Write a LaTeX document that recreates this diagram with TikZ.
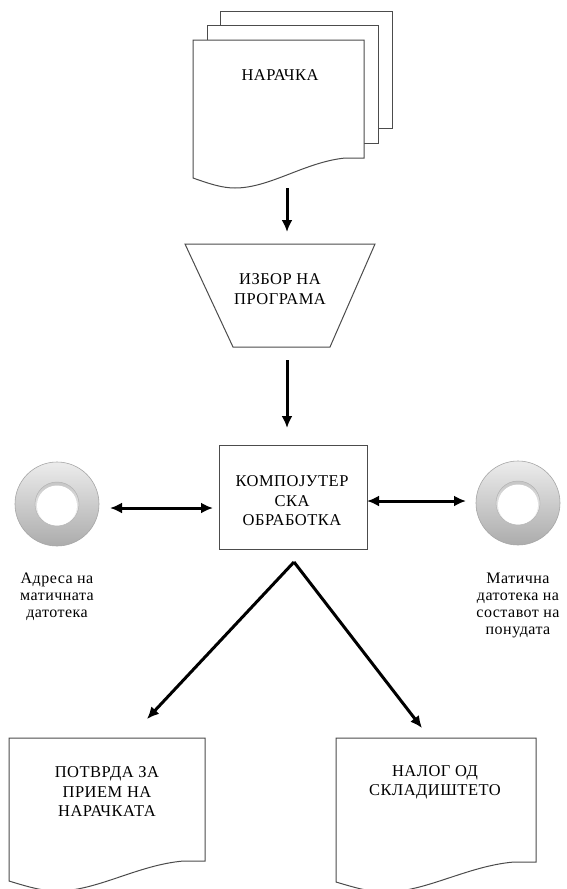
\documentclass[tikz,border=0pt]{standalone}
\usepackage{fontspec}
\setmainfont[LetterSpace=3]{Liberation Serif}
\usetikzlibrary{arrows.meta}
\tikzset{
  shapeline/.style={draw=black!70, line width=1pt, fill=white},
  capstext/.style={font=\fontsize{16.5}{19.5}\selectfont, text=black, align=center, inner sep=0pt},
  lbltext/.style={font=\fontsize{16}{17}\selectfont, text=black, align=center, inner sep=0pt},
  flow/.style={line width=3pt, -{Latex[length=12pt,width=11pt]}},
  twoway/.style={line width=3pt, {Latex[length=12pt,width=11pt]}-{Latex[length=12pt,width=11pt]}},
}
\newcommand{\docshape}[4]{% x0, ytop, width, yright-bottom
  \draw[shapeline] (#1,#2) -- ({#1+#3},#2) -- ({#1+#3},#4) -- ({#1+0.89*#3},#4)
    .. controls ({#1+0.655*#3},{#4+4}) and ({#1+0.45*#3},{#4+30}) .. ({#1+0.246*#3},{#4+30})
    .. controls ({#1+0.17*#3},{#4+30}) and ({#1+0.1*#3},{#4+26}) .. (#1,{#4+20}) -- cycle;}
\newcommand{\diskshape}[2]{% cx, cy
  \shade[top color=gray!15, bottom color=gray!65] (#1,#2) circle[radius=42pt];
  \draw[gray!70, line width=0.6pt] (#1,#2) circle[radius=42pt];
  \shade[top color=gray!45, bottom color=white] (#1,#2) circle[radius=22pt];
  \fill[white] (#1,{#2+1.5}) circle[radius=20pt];
  \draw[gray!60, line width=0.5pt] (#1,#2) circle[radius=22pt];}
\begin{document}
\begin{tikzpicture}[x=1pt, y=-1pt]
\useasboundingbox (0,0) rectangle (567,889);
\fill[white] (0,0) rectangle (567,889);

% stacked documents (input)
\draw[shapeline] (220,11) rectangle (392,128);
\draw[shapeline] (207,25) rectangle (378,143);
\docshape{193}{40}{171}{158}
\node[capstext] (order) at (280,75) {НАРАЧКА};
\coordinate (orderout) at (287,188);

% manual operation trapezoid
\draw[shapeline] (185,244) -- (375,244) -- (330,347) -- (233,347) -- cycle;
\node[capstext] (select) at (280,289) {ИЗБОР НА\\ПРОГРАМА};
\coordinate (selectin) at (287,232);
\coordinate (selectout) at (287,360);

% processing box
\node[shapeline, minimum width=148pt, minimum height=104pt, inner sep=0pt] (procbox) at (293,497) {};
\node[capstext] (proc) at (292,501) {КОМПОЈУТЕР\\СКА\\ОБРАБОТКА};
\coordinate (procin) at (287,428);
\coordinate (procleft) at (213,508);
\coordinate (procright) at (367,501);
\coordinate (procapex) at (294,562);

% disks
\diskshape{57}{504}
\diskshape{518}{503}
\coordinate (diskL) at (110,508);
\coordinate (diskR) at (466,501);
\node[lbltext] (lblL) at (57,597) {Адреса на\\матичната\\датотека};
\node[lbltext] (lblR) at (518,605) {Матична\\датотека на\\составот на\\понудата};

% output documents
\docshape{9}{738}{196}{861}
\node[capstext] (confirm) at (107,792) {ПОТВРДА ЗА\\ПРИЕМ НА\\НАРАЧКАТА};
\coordinate (confirmin) at (147,719);
\docshape{336}{738}{200}{862}
\node[capstext] (stock) at (435,782.5) {НАЛОГ ОД\\СКЛАДИШТЕТО};
\coordinate (stockin) at (422,728);

% connectors
\draw[flow] (orderout) -- (selectin);
\draw[flow] (selectout) -- (procin);
\draw[twoway] (diskL) -- (procleft);
\draw[twoway] (procright) -- (diskR);
\draw[flow] (procapex) -- (confirmin);
\draw[flow] (procapex) -- (stockin);
\end{tikzpicture}
\end{document}
